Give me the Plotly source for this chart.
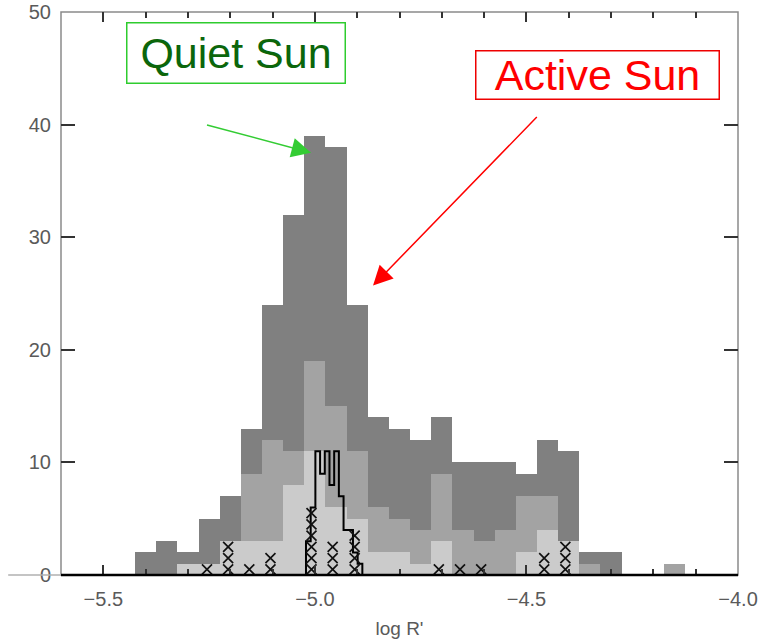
import plotly.graph_objects as go

# ---- data ----
bin_centers = [-5.40, -5.35, -5.30, -5.25, -5.20, -5.15, -5.10, -5.05, -5.00, -4.95,
               -4.90, -4.85, -4.80, -4.75, -4.70, -4.65, -4.60, -4.55, -4.50, -4.45,
               -4.40, -4.35, -4.30, -4.25, -4.20, -4.15]
bin_width = 0.05
all_counts = [2, 3, 2, 5, 7, 13, 24, 32, 39, 38, 24, 14, 13, 12, 14, 10, 10, 10, 9, 12, 11, 2, 2, 0, 0, 1]
mid_counts = [0, 0, 1, 1, 3, 9, 12, 11, 19, 15, 11, 6, 5, 4, 9, 4, 3, 4, 7, 7, 3, 1, 0, 0, 0, 1]
low_counts = [0, 0, 1, 1, 3, 3, 3, 8, 11, 6, 5, 2, 2, 1, 3, 0, 0, 0, 2, 4, 3, 0, 0, 0, 0, 0]

sun_bin_start = -5.021
sun_bin_width = 0.0111
sun_counts = [3, 6, 11, 9, 11, 8, 11, 7, 4, 4, 2, 1]

cross_pos = [-5.255, -5.205, -5.155, -5.105, -5.008, -4.958, -4.906, -4.707, -4.657, -4.607, -4.458, -4.408]
cross_num = [1, 3, 1, 2, 6, 3, 4, 1, 1, 1, 2, 3]

x_ticks = [-5.5, -5.0, -4.5, -4.0]
x_ticktext = ["\u22125.5", "\u22125.0", "\u22124.5", "\u22124.0"]
y_ticks = [0, 10, 20, 30, 40, 50]

# ---- build ----
fig = go.Figure()
for counts, col in [(all_counts, "#808080"), (mid_counts, "#a3a3a3"), (low_counts, "#cbcbcb")]:
    fig.add_trace(go.Bar(x=bin_centers, y=counts, width=bin_width, marker_color=col,
                         marker_line_width=0, showlegend=False))

# black outline histogram (step)
edges = [sun_bin_start + i * sun_bin_width for i in range(len(sun_counts) + 1)]
sx = [edges[0]] + edges
sy = [0] + sun_counts + [0]
fig.add_trace(go.Scatter(x=sx, y=sy, mode="lines", line=dict(color="black", width=2, shape="hv"),
                         showlegend=False))

# stacked crosses
cx, cy = [], []
for p, n in zip(cross_pos, cross_num):
    for k in range(n):
        cx.append(p)
        cy.append(k + 0.5)
fig.add_trace(go.Scatter(x=cx, y=cy, mode="markers",
                         marker=dict(symbol="x-thin", size=10, line=dict(color="#111", width=1.7)),
                         showlegend=False))

font_tick = dict(family="Liberation Sans, Arial, sans-serif", size=20, color="#5a5a5a")

fig.update_layout(
    width=760, height=641,
    margin=dict(l=61, r=22, t=12, b=66),
    paper_bgcolor="white", plot_bgcolor="white",
    barmode="overlay", bargap=0,
    xaxis=dict(range=[-5.6, -4.0], tickvals=x_ticks, ticktext=x_ticktext,
               ticks="inside", ticklen=10, tickwidth=1.5, tickcolor="#333",
               minor=dict(dtick=0.1, tick0=-4.0, ticks="inside", ticklen=6, tickwidth=1.5, tickcolor="#333"),
               showline=False, mirror="ticks", automargin=False,
               showgrid=False, zeroline=False, tickfont=font_tick, ticklabelstandoff=10,
               title=dict(text="log R'", font=dict(family="Liberation Sans, Arial, sans-serif", size=19, color="#5a5a5a"),
                          standoff=12)),
    yaxis=dict(range=[0, 50], tickvals=y_ticks, ticks="inside", ticklen=14, tickwidth=1.5, tickcolor="#333",
               showline=False, mirror="ticks", automargin=False, showgrid=False, zeroline=False,
               tickfont=font_tick, ticklabelstandoff=9),
    shapes=[
        dict(type="rect", xref="paper", yref="paper", x0=0, x1=1, y0=0, y1=1,
             line=dict(color="#8a8a8a", width=1.5), layer="below"),
        dict(type="line", xref="paper", yref="paper", x0=0, x1=1, y0=0, y1=0,
             line=dict(color="black", width=2.5), layer="above"),
        dict(type="line", xref="paper", yref="paper", x0=-0.078, x1=0, y0=0, y1=0,
             line=dict(color="#b0b0b0", width=1.5)),
    ],
    annotations=[
        dict(text="Quiet Sun", xref="paper", yref="paper", x=0.2585, y=0.928, showarrow=False,
             font=dict(family="Liberation Sans, Arial, sans-serif", size=43, color="#0b660b"),
             bordercolor="#2ecc2e", borderwidth=1.5, borderpad=0, width=217, height=59,
             xanchor="center", yanchor="middle"),
        dict(text="Active Sun", xref="paper", yref="paper", x=0.7925, y=0.888, showarrow=False,
             font=dict(family="Liberation Sans, Arial, sans-serif", size=43, color="#ff0000"),
             bordercolor="#ee0000", borderwidth=1.5, borderpad=0, width=242, height=47,
             xanchor="center", yanchor="middle"),
        dict(text="", x=-5.009, y=37.5, xref="x", yref="y", ax=-5.2585, ay=40.0, axref="x", ayref="y",
             showarrow=True, arrowhead=2, arrowsize=2.6, arrowwidth=1.5, arrowcolor="#33cc33"),
        dict(text="", x=-4.8625, y=25.7, xref="x", yref="y", ax=-4.472, ay=40.8, axref="x", ayref="y",
             showarrow=True, arrowhead=2, arrowsize=2.6, arrowwidth=1.5, arrowcolor="#ff0000"),
    ],
)

fig.write_html("out.html")
